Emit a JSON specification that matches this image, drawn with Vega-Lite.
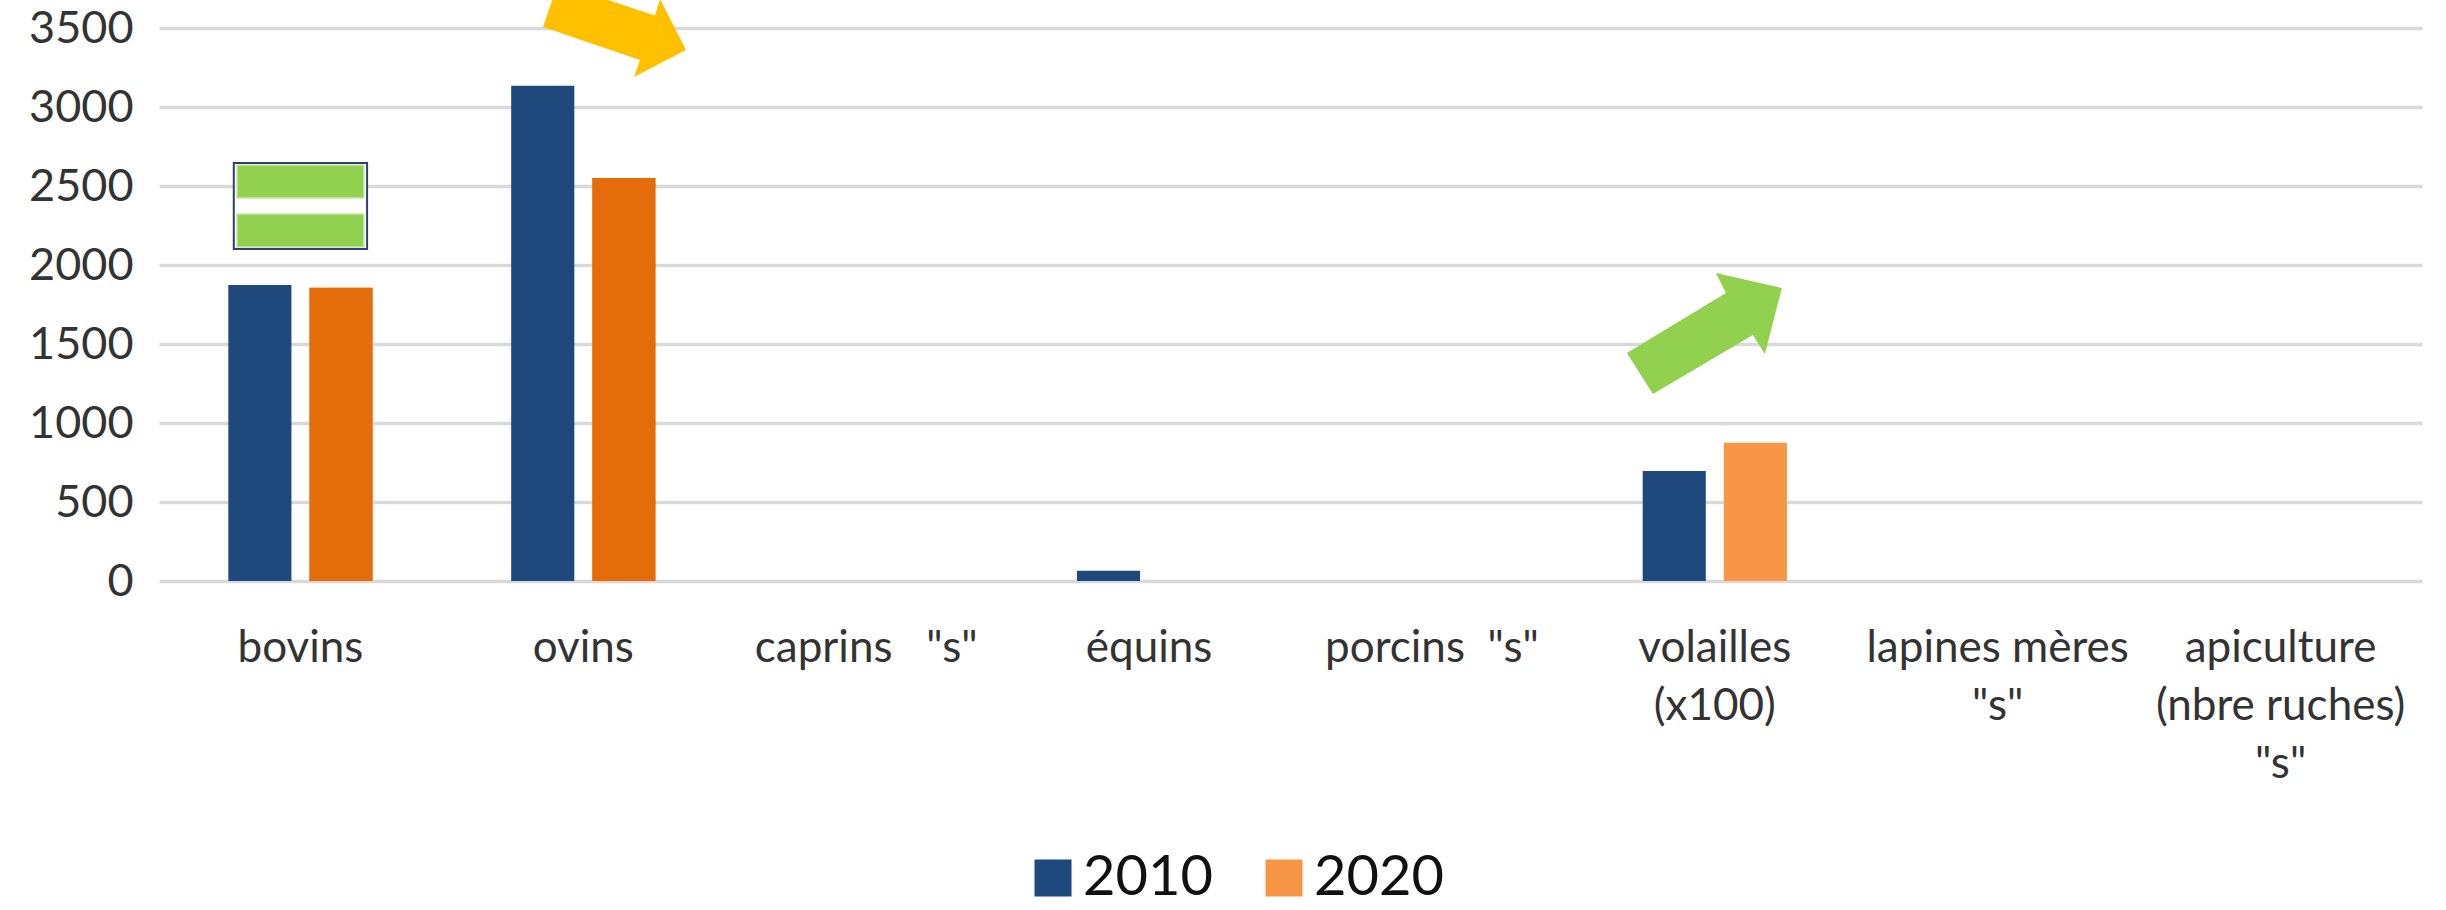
{
  "$schema": "https://vega.github.io/schema/vega-lite/v6.json",
  "autosize": {"type": "none"},
  "padding": {"left": 159, "top": 28, "right": 24, "bottom": 329},
  "width": 2263,
  "height": 553,
  "background": "#ffffff",
  "config": {
    "view": {"stroke": null},
    "font": "Lato",
    "axis": {"labelFont": "Lato", "labelColor": "#333333"},
    "legend": {"labelFont": "Lato"}
  },
  "datasets": {
    "bars": [
      {"cat": "bovins", "year": "2010", "value": 1873},
      {"cat": "bovins", "year": "2020", "value": 1856},
      {"cat": "ovins", "year": "2010", "value": 3134},
      {"cat": "ovins", "year": "2020", "value": 2551},
      {"cat": "équins", "year": "2010", "value": 65},
      {"cat": "volailles|(x100)", "year": "2010", "value": 696},
      {"cat": "volailles|(x100)", "year": "2020", "value": 875}
    ]
  },
  "layer": [
    {
      "data": {"name": "bars"},
      "mark": {"type": "bar"},
      "encoding": {
        "x": {
          "field": "cat", "type": "nominal", "title": null,
          "scale": {
            "domain": ["bovins", "ovins", "caprins\u00a0\u00a0\u00a0\"s\"", "équins", "porcins\u00a0\u00a0\"s\"", "volailles|(x100)", "lapines mères|\"s\"", "apiculture|(nbre ruches)|\"s\""],
            "paddingInner": 0.49, "paddingOuter": 0.245
          },
          "axis": {
            "labelExpr": "split(datum.value, '|')",
            "labelAngle": 0, "labelFontSize": 44, "labelLineHeight": 58,
            "labelPadding": 45, "ticks": false, "tickSize": 0, "domain": false,
            "grid": false, "labelLimit": 600, "labelOverlap": false, "labelBaseline": "top"
          }
        },
        "xOffset": {"field": "year", "type": "nominal", "scale": {"domain": ["2010", "2020"], "paddingInner": 0.222, "paddingOuter": 0}},
        "y": {
          "field": "value", "type": "quantitative", "title": null,
          "scale": {"domain": [0, 3500], "nice": false},
          "axis": {
            "values": [0, 500, 1000, 1500, 2000, 2500, 3000, 3500],
            "format": "d", "labelFontSize": 45, "labelPadding": 26,
            "ticks": false, "tickSize": 0, "domain": false,
            "grid": true, "gridColor": "#D9D9D9", "gridWidth": 3.5
          }
        },
        "color": {
          "field": "year", "type": "nominal",
          "scale": {"domain": ["2010", "2020"], "range": ["#1F497D", "#F79646"]},
          "legend": {
            "orient": "none", "legendX": 866, "legendY": 822, "direction": "horizontal",
            "title": null, "labelFontSize": 56, "labelColor": "#111111",
            "symbolType": "square", "symbolSize": 1369, "symbolStrokeWidth": 0,
            "labelOffset": 2, "columnPadding": 43, "padding": 0
          }
        }
      }
    },
    {
      "data": {"name": "bars"},
      "transform": [{"filter": "datum.year == '2020' && (datum.cat == 'bovins' || datum.cat == 'ovins')"}],
      "mark": {"type": "bar", "color": "#E46C0A"},
      "encoding": {
        "x": {"field": "cat", "type": "nominal"},
        "xOffset": {"field": "year", "type": "nominal"},
        "y": {"field": "value", "type": "quantitative"}
      }
    },
    {
      "data": {"values": [{"cat": "bovins", "lo": 2101, "hi": 2646}]},
      "mark": {"type": "bar", "fill": "#ffffff", "stroke": "#2F3E73", "strokeWidth": 2, "width": {"band": 0.924}},
      "encoding": {
        "x": {"field": "cat", "type": "nominal"},
        "y": {"field": "lo", "type": "quantitative"},
        "y2": {"field": "hi"}
      }
    },
    {
      "data": {"values": [{"cat": "bovins", "lo": 2424, "hi": 2633}, {"cat": "bovins", "lo": 2114, "hi": 2323}]},
      "mark": {"type": "bar", "fill": "#92D050", "stroke": "#C9E8A8", "strokeWidth": 1.5, "width": {"band": 0.88}},
      "encoding": {
        "x": {"field": "cat", "type": "nominal"},
        "y": {"field": "lo", "type": "quantitative"},
        "y2": {"field": "hi"}
      }
    },
    {
      "data": {"values": [{"cat": "ovins", "v": 3450}]},
      "mark": {
        "type": "point", "filled": true, "opacity": 1, "strokeWidth": 0, "color": "#FFC000", "size": 4,
        "shape": "M -40.3 -8.9 L 56.7 24.1 L 50.7 41.1 L 102.7 14.1 L 76.7 -36.9 L 71.7 -20.4 L -25.3 -52.4 Z"
      },
      "encoding": {
        "x": {"field": "cat", "type": "nominal"},
        "y": {"field": "v", "type": "quantitative"}
      }
    },
    {
      "data": {"values": [{"cat": "volailles|(x100)", "v": 1570}]},
      "mark": {
        "type": "point", "filled": true, "opacity": 1, "strokeWidth": 0, "color": "#92D050", "size": 4,
        "shape": "M -87.9 20.1 L 11.1 -39.9 L 1.1 -59.9 L 67.1 -44.9 L 50.1 21.1 L 38.1 2.1 L -61.9 61.1 Z"
      },
      "encoding": {
        "x": {"field": "cat", "type": "nominal"},
        "y": {"field": "v", "type": "quantitative"}
      }
    }
  ]
}
